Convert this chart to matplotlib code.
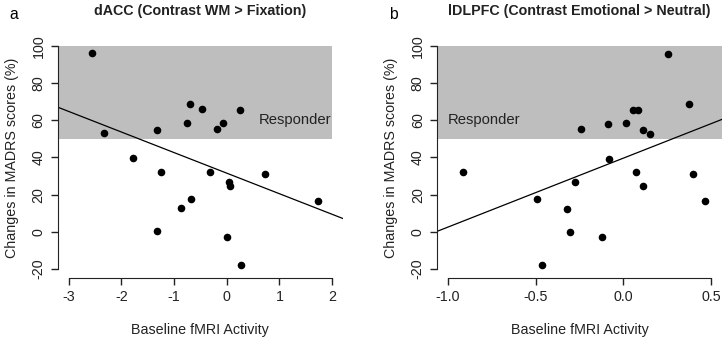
import numpy as np
import matplotlib
matplotlib.use("Agg")
import matplotlib.pyplot as plt
from matplotlib.patches import Rectangle

plt.rcParams['font.family'] = ['Liberation Sans', 'DejaVu Sans']

# change in MADRS scores (%) - shared by both panels
madrs_a = [96.0, 52.9, 68.6, 65.8, 65.6, 54.9, 58.3, 55.4, 58.8, 39.7, 32.3,
           32.3, 31.3, 26.6, 24.7, 16.8, 17.7, 12.7, 0.2, -2.5, -17.7]
dacc = [-2.56, -2.32, -0.69, -0.46, 0.25, -1.32, -0.76, -0.19, -0.07, -1.78, -1.24,
        -0.32, 0.73, 0.04, 0.06, 1.73, -0.68, -0.87, -1.33, 0.01, 0.27]

madrs_b = [95.9, 68.5, 65.5, 65.5, 55.4, 58.1, 58.7, 54.6, 52.8, 39.3, 32.2,
           32.2, 31.1, 26.7, 24.5, 17.5, 16.6, 12.5, 0.0, -2.7, -17.9]
dlpfc = [0.256, 0.372, 0.057, 0.080, -0.241, -0.089, 0.013, 0.110, 0.150, -0.082, -0.915,
         0.070, 0.396, -0.277, 0.110, -0.490, 0.463, -0.320, -0.307, -0.125, -0.465]

xticks_a = [-3, -2, -1, 0, 1, 2]
xticks_b = [-1.0, -0.5, 0.0, 0.5]
yticks = [-20, 0, 20, 40, 60, 80, 100]

fs = 10.3
fig = plt.figure(figsize=(7.24, 3.39), dpi=100)
axa = fig.add_axes([0.0801, 0.18, 0.3932, 0.711])
axb = fig.add_axes([0.604, 0.18, 0.393, 0.711])


def panel(ax, x, y, xlim, xticks, xticklabels, title, letter, resp_x, resp_ha, rect_right):
    ax.set_xlim(*xlim)
    ax.set_ylim(-24.8, 104.8)
    ax.add_patch(Rectangle((xlim[0], 50), rect_right - xlim[0], 50,
                           facecolor='#bebebe', edgecolor='none', zorder=0))
    ax.text(resp_x, 60, 'Responder', ha=resp_ha, va='center', fontsize=fs + 0.4, color='#222222')
    ax.scatter(x, y, s=20, color='black', zorder=3)
    slope, icpt = np.polyfit(x, y, 1)
    xx = np.array(xlim)
    ax.plot(xx, icpt + slope * xx, color='black', lw=0.9)
    ax.spines['top'].set_visible(False)
    ax.spines['right'].set_visible(False)
    ax.spines['left'].set_bounds(-20, 100)
    ax.spines['bottom'].set_bounds(xticks[0], xticks[-1])
    ax.set_xticks(xticks)
    ax.set_xticklabels(xticklabels)
    ax.set_yticks(yticks)
    ax.set_yticklabels([str(v) for v in yticks], rotation=90, va='center')
    ax.tick_params(labelsize=fs, length=5, width=1, colors='#222222')
    ax.tick_params(axis='y', pad=4)
    for s in ('left', 'bottom'):
        ax.spines[s].set_color('#222222')
    ax.set_xlabel('Baseline fMRI Activity', fontsize=fs, labelpad=14, color='#222222')
    ax.set_ylabel('Changes in MADRS scores (%)', fontsize=fs, labelpad=9, color='#222222')
    ax.set_title(title, fontsize=fs, fontweight='bold', pad=16, color='#222222')
    ax.text(-0.17, 1.095, letter, transform=ax.transAxes, fontsize=fs + 1, ha='left', va='center')


panel(axa, dacc, madrs_a, (-3.2, 2.2), xticks_a, ['-3', '-2', '-1', '0', '1', '2'],
      'dACC (Contrast WM > Fixation)', 'a', 1.98, 'right', 2.0)
panel(axb, dlpfc, madrs_b, (-1.06, 0.56), xticks_b, ['-1.0', '-0.5', '0.0', '0.5'],
      'lDLPFC (Contrast Emotional > Neutral)', 'b', -1.0, 'left', 0.56)

fig.savefig('out.png', dpi=100)
